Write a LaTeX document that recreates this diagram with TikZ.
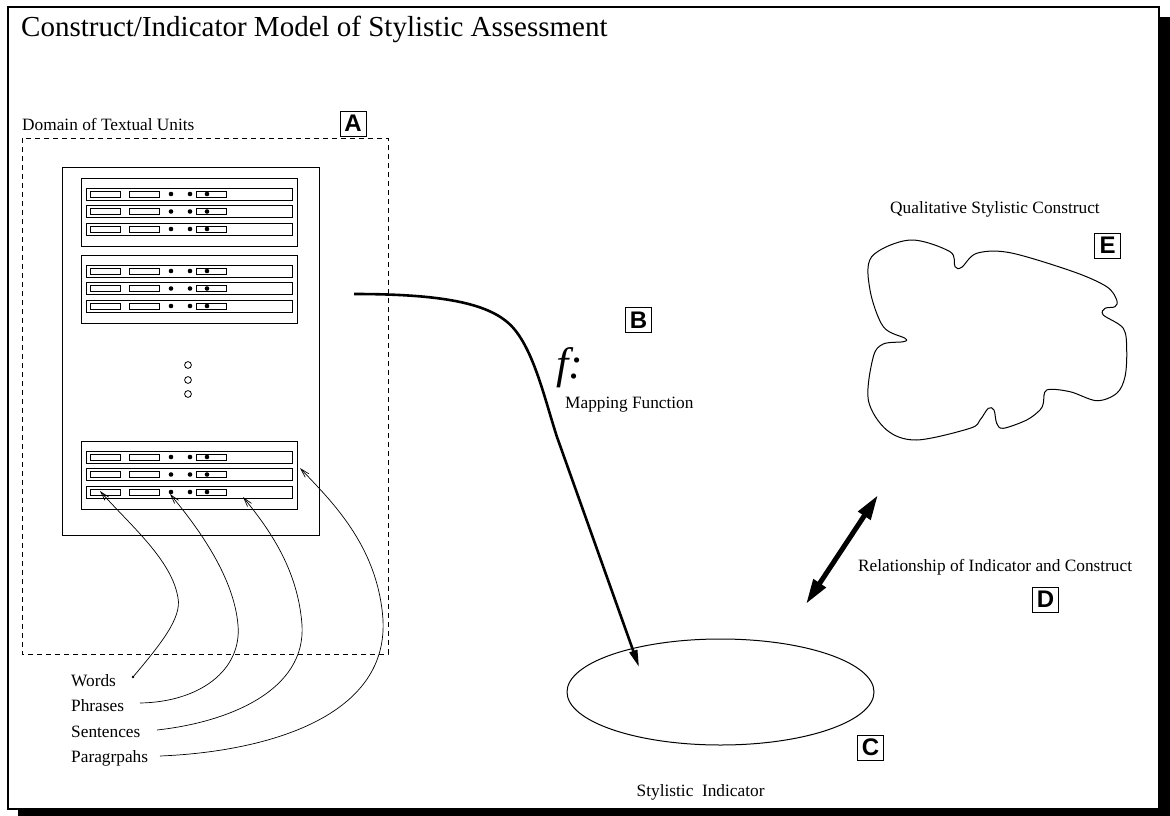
\documentclass[tikz,border=0pt]{standalone}
\usepackage{fontspec}
\setmainfont{Liberation Serif}
\newfontfamily\tagfont{Liberation Sans}
\usetikzlibrary{arrows.meta}

\begin{document}
\begin{tikzpicture}[x=1pt,y=-1pt,
  txt/.style={anchor=base west, inner sep=0pt, font=\fontsize{17.3}{20}\selectfont},
  tag/.style={draw, line width=0.9pt, minimum width=26pt, minimum height=25pt, inner sep=0pt,
              font=\tagfont\bfseries\fontsize{24}{24}\selectfont},
  unit/.style={draw, line width=0.8pt},
  pointer/.style={line width=0.7pt, -{Straight Barb[length=9pt,width=5pt]}},
  mapping/.style={line width=2.6pt, -{Triangle[length=17pt,width=8pt]}},
  relation/.style={line width=5pt, line cap=round, {Triangle[length=25pt,width=14pt]}-{Triangle[length=25pt,width=14pt]}},
  outline/.style={line width=1pt}]

\useasboundingbox (0,0) rectangle (1170,816);

% page frame with drop shadow
\fill[black] (18,17) rectangle (1170,820);
\draw[fill=white, line width=2.5pt] (8,7) rectangle (1159,809);

% title
\node[anchor=base west, inner sep=0pt, font=\fontsize{29}{34}\selectfont] (title) at (21,36.5)
  {Construct/Indicator Model of Stylistic Assessment};

% domain of textual units
\node[txt] (domain) at (22,130) {Domain of Textual Units};
\node[tag] (tagA) at (353,123.5) {A};
\draw[dashed, line width=0.8pt, dash pattern=on 5pt off 4pt] (22,138) rectangle (388,654);

% the stack of textual units
\draw[unit] (62,167) rectangle (319,535);
\foreach \gy in {178,255,441} {
  \draw[unit] (81,\gy) rectangle (297,\gy+68);
  \foreach \ro in {10,27.5,45} {
    \pgfmathsetmacro\ry{\gy+\ro}
    \draw[unit] (86,\ry) rectangle (292,\ry+12);
    \draw[unit] (90,\ry+3) rectangle (120,\ry+9);
    \draw[unit] (129,\ry+3) rectangle (159,\ry+9);
    \draw[unit] (196,\ry+3) rectangle (226,\ry+9);
    \fill (171,\ry+6) circle[radius=2.3pt];
    \fill (190,\ry+6) circle[radius=2.3pt];
    \fill (207,\ry+6) circle[radius=2.3pt];
  }
}
\foreach \cy in {365,380,394}
  \draw[line width=0.8pt] (188,\cy) circle[radius=3.4pt];

% unit labels and their pointers
\node[txt] (words) at (71,686.5) {Words};
\node[txt] (phrases) at (71,711.5) {Phrases};
\node[txt] (sentences) at (71,737) {Sentences};
\node[txt] (paragraphs) at (71,762) {Paragrpahs};

\coordinate (wordsTail) at (133,677);
\coordinate (wordsTip) at (100,491);
\coordinate (phrasesTail) at (140,703);
\coordinate (phrasesTip) at (170,494);
\coordinate (sentencesTail) at (157,730);
\coordinate (sentencesTip) at (243,497);
\coordinate (paragraphsTail) at (160,756);
\coordinate (paragraphsTip) at (300,468);

\fill (wordsTail) circle[radius=1.3pt];
\draw[pointer] (wordsTail) .. controls (160,645) and (182,618) .. (178,598)
  .. controls (172,560) and (130,525) .. (wordsTip);
\draw[pointer] (phrasesTail) .. controls (200,702) and (242,670) .. (238,625)
  .. controls (234,578) and (200,530) .. (phrasesTip);
\draw[pointer] (sentencesTail) .. controls (230,722) and (306,690) .. (302,625)
  .. controls (298,570) and (270,530) .. (sentencesTip);
\draw[pointer] (paragraphsTail) .. controls (260,752) and (388,720) .. (383,620)
  .. controls (378,545) and (330,500) .. (paragraphsTip);

% mapping function
\node[tag] (tagB) at (638.5,320) {B};
\node[anchor=base west, inner sep=0pt, font=\itshape\fontsize{44}{46}\selectfont] (fsym) at (556,378) {f:};
\node[txt] (mapping) at (565,408.5) {Mapping Function};

\coordinate (mapStart) at (354,294);
\coordinate (mapEnd) at (639,667);
\draw[mapping] (mapStart) .. controls (450,294) and (495,305) .. (515,330)
  .. controls (535,355) and (545,400) .. (557,437) -- (mapEnd);

% stylistic indicator
\draw[outline] (720.5,692) ellipse[x radius=153.5, y radius=53];
\node[tag] (tagC) at (870.5,747.5) {C};
\node[txt] (indicator) at (636.5,796.5) {Stylistic\ \ Indicator};

% relationship of indicator and construct
\coordinate (relLow) at (806,604);
\coordinate (relHigh) at (878,495);
\draw[relation] (relLow) -- (relHigh);
\node[txt] (relation) at (858,571.5) {Relationship of Indicator and Construct};
\node[tag] (tagD) at (1045.5,599.5) {D};

% qualitative stylistic construct
\node[txt] (construct) at (890,213) {Qualitative Stylistic Construct};
\node[tag] (tagE) at (1107.5,245.5) {E};
\draw[outline] plot[smooth cycle, tension=0.55] coordinates {
  (871.7,256.7) (910,240) (950,251.7) (955,266.7) (961.7,267.3) (976.7,253.3)
  (1010,252.7) (1073.3,271.7) (1106.7,286.7) (1116.7,300) (1115,306.7) (1105,308.3)
  (1103.3,315) (1123.3,328.3) (1126.7,350) (1125,376.7) (1116.7,393.3) (1096.7,400.7)
  (1070,391.7) (1046.7,390) (1043.3,403.3) (1040,410) (1026.7,420) (1003.3,428.3)
  (996.7,423.3) (994,410) (988.3,408.3) (980,420) (970,428.3) (916.7,440)
  (886.7,430) (868.3,400) (873.3,356.7) (883.3,344) (903.3,341.7) (905,338.3)
  (883.3,326.7) (870,290)};

\end{tikzpicture}
\end{document}
